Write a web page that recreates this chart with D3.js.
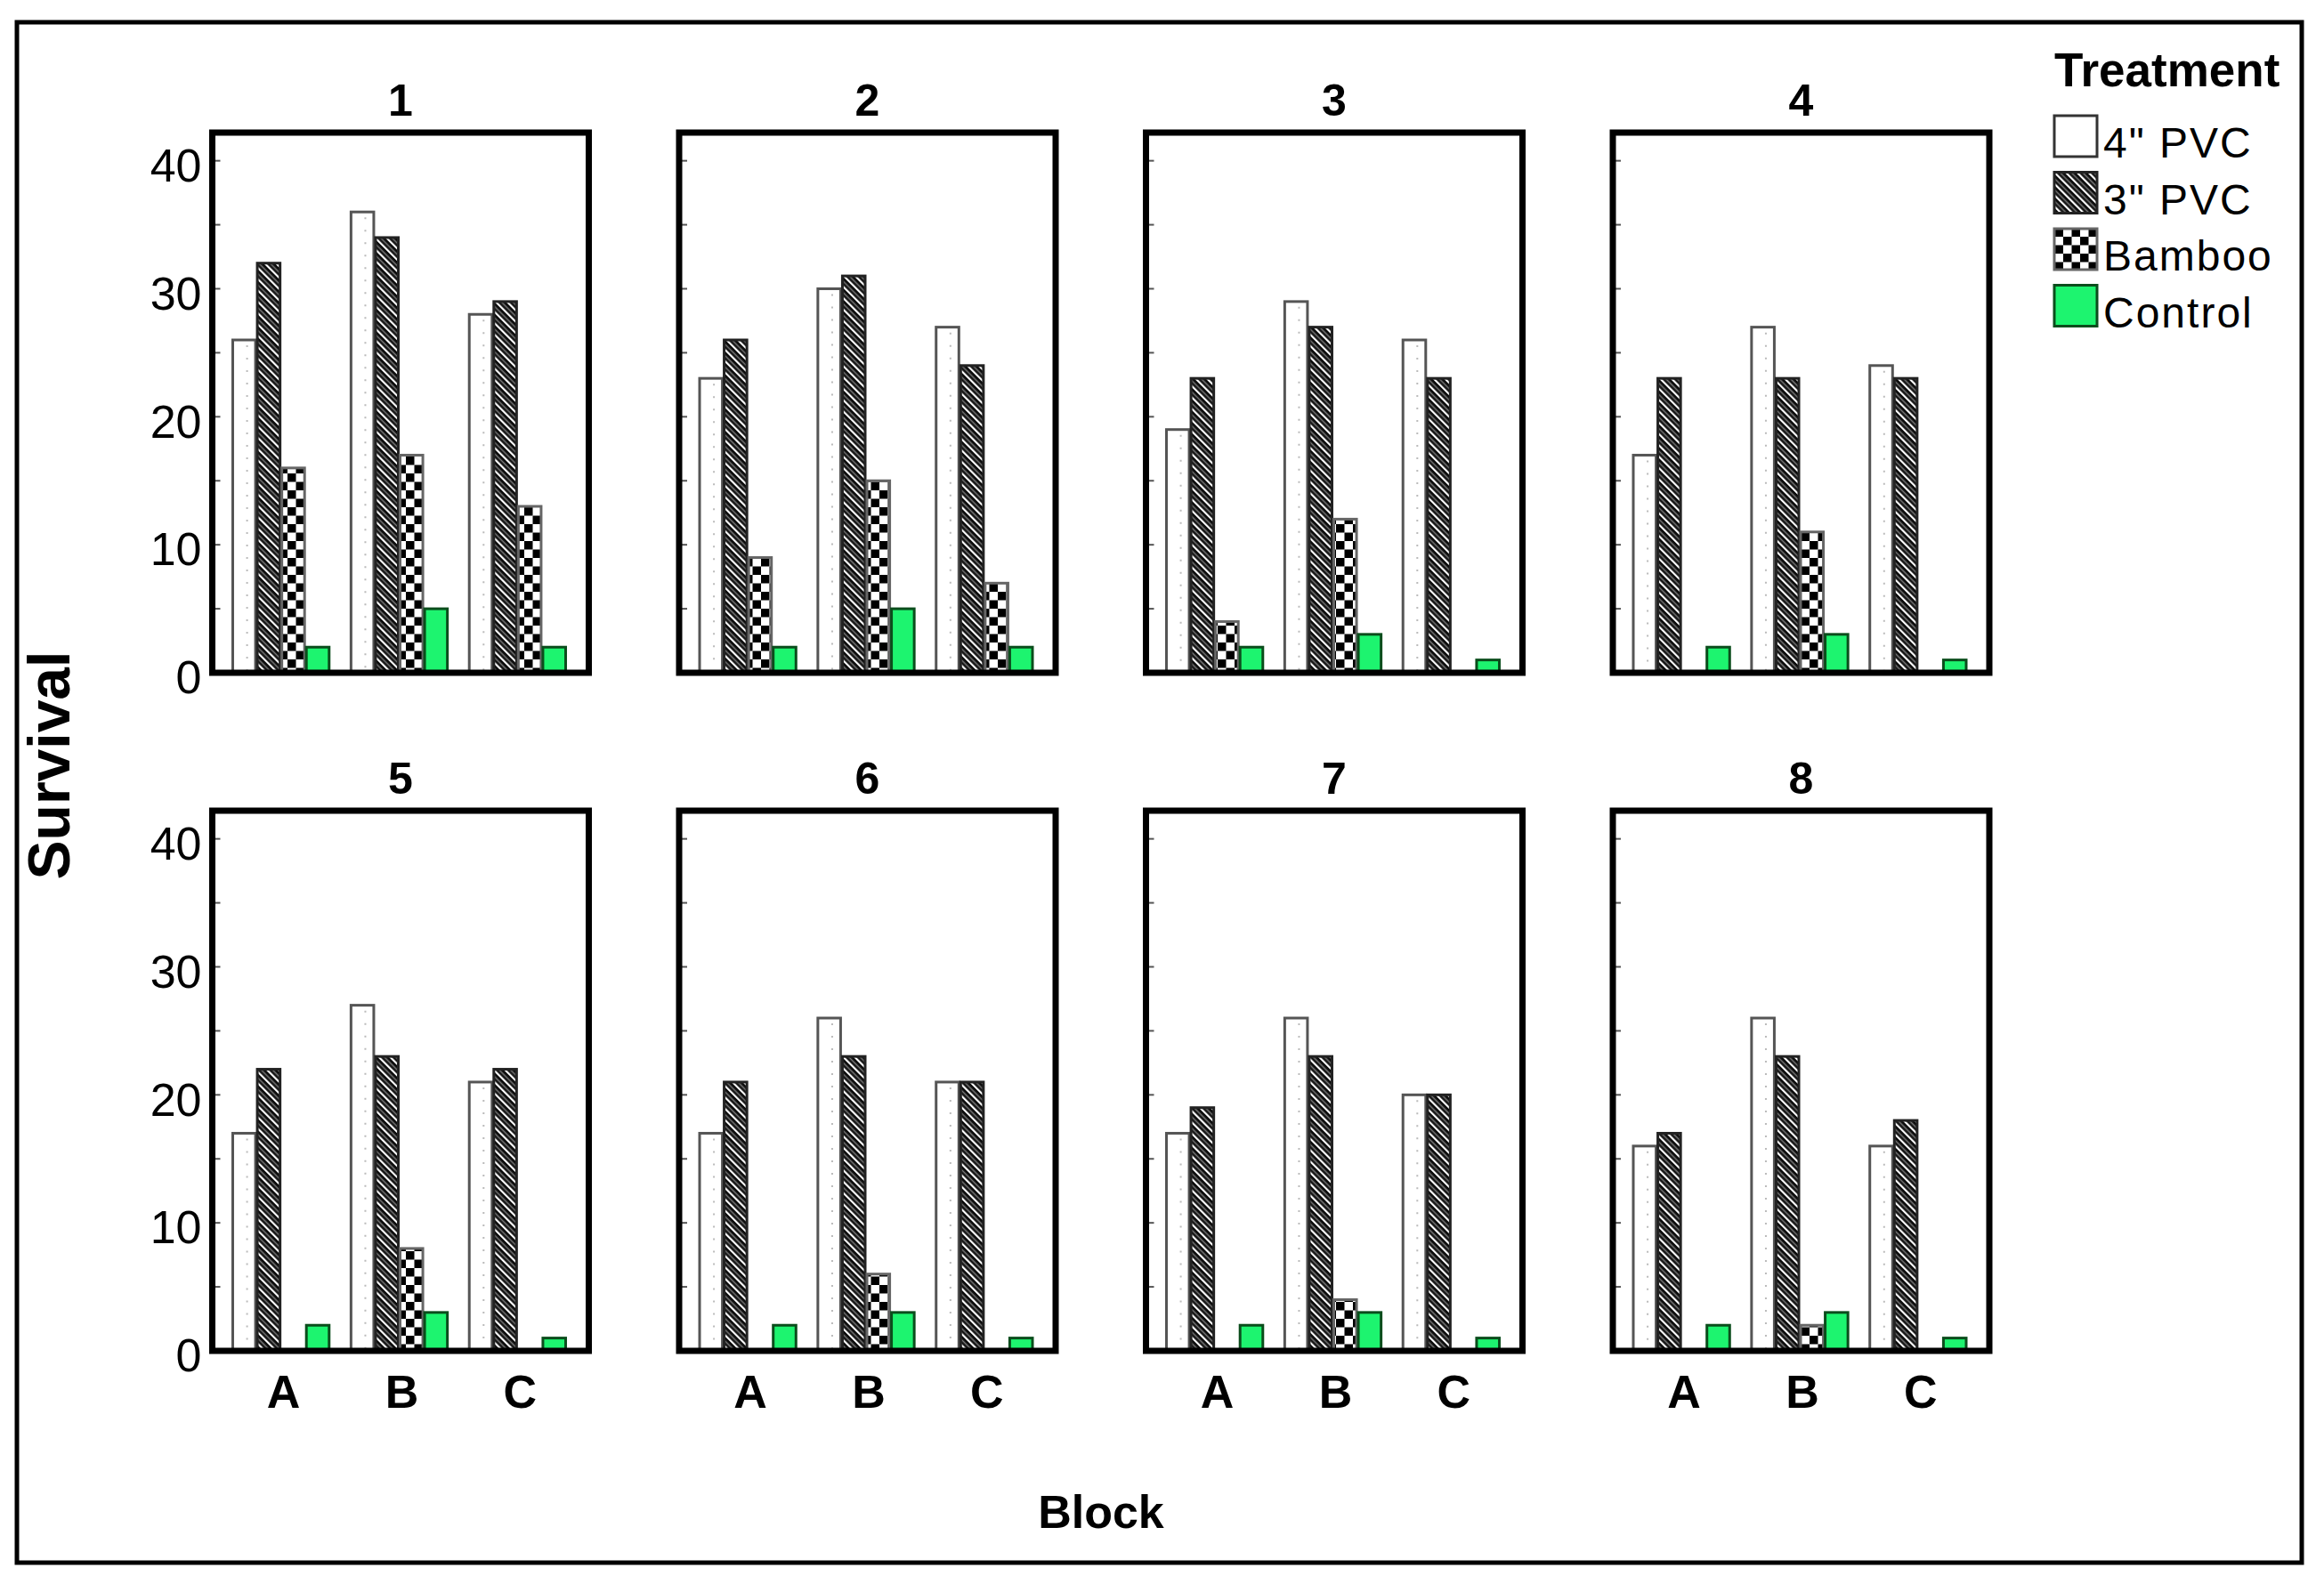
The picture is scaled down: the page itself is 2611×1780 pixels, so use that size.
<!DOCTYPE html>
<html>
<head>
<meta charset="utf-8">
<script src="https://cdn.jsdelivr.net/npm/d3@7"></script>
<style>
  html, body { margin: 0; padding: 0; background: #fff; }
  svg { display: block; }
</style>
</head>
<body>
<svg id="chart" width="2611" height="1780"></svg>
<script>
// ---------------- data ----------------
const panels = ["1", "2", "3", "4", "5", "6", "7", "8"];
const blocks = ["A", "B", "C"];
const treatments = ["4\" PVC", "3\" PVC", "Bamboo", "Control"];
// values per panel, in block order A, B, C
const pvc4    = [[26, 36, 28], [23, 30, 27], [19, 29, 26], [17, 27, 24], [17, 27, 21], [17, 26, 21], [17, 26, 20], [16, 26, 16]];
const pvc3    = [[32, 34, 29], [26, 31, 24], [23, 27, 23], [23, 23, 23], [22, 23, 22], [21, 23, 21], [19, 23, 20], [17, 23, 18]];
const bamboo  = [[16, 17, 13], [9, 15, 7], [4, 12, 0], [0, 11, 0], [0, 8, 0], [0, 6, 0], [0, 4, 0], [0, 2, 0]];
const control = [[2, 5, 2], [2, 5, 2], [2, 3, 1], [2, 3, 1], [2, 3, 1], [2, 3, 1], [2, 3, 1], [2, 3, 1]];
const yTickLabels = [0, 10, 20, 30, 40];
const yTickMarks = [0, 5, 10, 15, 20, 25, 30, 35, 40];
const yLabel = "Survival";
const xLabel = "Block";
const legendTitle = "Treatment";

const series = [pvc4, pvc3, bamboo, control];

// ---------------- layout ----------------
const svg = d3.select("#chart");
const narrow = "'Liberation Sans Narrow', 'Arial Narrow', 'Liberation Sans', Arial, sans-serif";
const wide = "'Liberation Sans', Arial, Helvetica, sans-serif";

const panelW = 423, panelH = 607;
const colX = d3.scaleLinear().domain([0, 1]).range([238.5, 238.5 + 524.5]);
const rowY = d3.scaleLinear().domain([0, 1]).range([149, 149 + 762]);

// patterns
const defs = svg.append("defs");
// 3" PVC diagonal hatch
const hatch = defs.append("pattern").attr("id", "hatch").attr("patternUnits", "userSpaceOnUse")
  .attr("width", 9).attr("height", 9).attr("patternTransform", "rotate(-45)");
hatch.append("rect").attr("width", 9).attr("height", 9).attr("fill", "#0a0a0a");
hatch.append("rect").attr("x", 0).attr("width", 2.2).attr("height", 9).attr("fill", "#fff");
hatch.append("rect").attr("x", 4.6).attr("width", 1.6).attr("height", 9).attr("fill", "#777");
// Bamboo checkerboard
const check = defs.append("pattern").attr("id", "check").attr("patternUnits", "userSpaceOnUse")
  .attr("width", 19).attr("height", 19);
check.append("rect").attr("width", 19).attr("height", 19).attr("fill", "#fff");
check.append("rect").attr("width", 9.5).attr("height", 9.5).attr("fill", "#000");
check.append("rect").attr("x", 9.5).attr("y", 9.5).attr("width", 9.5).attr("height", 9.5).attr("fill", "#000");

const fills = ["#ffffff", "url(#hatch)", "url(#check)", "#1df46f"];
const strokes = ["#555", "#222", "#666", "#0b4d1c"];

// outer border
svg.append("rect").attr("x", 19).attr("y", 25).attr("width", 2567).attr("height", 1731)
  .attr("fill", "none").attr("stroke", "#000").attr("stroke-width", 5);

panels.forEach((p, pi) => {
  const col = pi % 4, row = Math.floor(pi / 4);
  const x0 = colX(col), y0 = rowY(row);
  const g = svg.append("g");

  const y = d3.scaleLinear().domain([0, 42.2]).range([y0 + panelH, y0]);
  const xg = d3.scaleBand().domain(blocks).range([x0 + 22, x0 + 398]).paddingInner(0.17).paddingOuter(0);
  const xt = d3.scaleBand().domain(treatments).range([0, xg.bandwidth()]).padding(0);

  // bars
  treatments.forEach((t, ti) => {
    const vals = blocks.map((b, bi) => ({ b, v: series[ti][pi][bi] })).filter(d => d.v > 0);
    g.selectAll(null).data(vals).enter().append("rect")
      .attr("x", d => xg(d.b) + xt(t) + 1)
      .attr("y", d => y(d.v))
      .attr("width", xt.bandwidth() - 2)
      .attr("height", d => y(0) - y(d.v))
      .attr("fill", fills[ti])
      .attr("stroke", strokes[ti])
      .attr("stroke-width", 3);
    if (ti === 0) {
      g.selectAll(null).data(vals).enter().append("line")
        .attr("x1", d => xg(d.b) + xt(t) + xt.bandwidth() * 0.62)
        .attr("x2", d => xg(d.b) + xt(t) + xt.bandwidth() * 0.62)
        .attr("y1", d => y(d.v) + 6).attr("y2", y(0))
        .attr("stroke", "#bbb").attr("stroke-width", 2).attr("stroke-dasharray", "2,12");
    }
  });

  // tick marks
  g.selectAll(null).data(yTickMarks).enter().append("line")
    .attr("x1", x0).attr("x2", x0 + 9)
    .attr("y1", d => y(d)).attr("y2", d => y(d))
    .attr("stroke", "#555").attr("stroke-width", 2);

  // frame
  g.append("rect").attr("x", x0).attr("y", y0).attr("width", panelW).attr("height", panelH)
    .attr("fill", "none").attr("stroke", "#000").attr("stroke-width", 7);

  // title
  g.append("text").attr("x", x0 + panelW / 2).attr("y", y0 - 19)
    .attr("text-anchor", "middle").attr("font-family", narrow).attr("font-weight", "bold")
    .attr("font-size", 50).text(p);

  // y tick labels on first column
  if (col === 0) {
    g.selectAll(null).data(yTickLabels).enter().append("text")
      .attr("x", x0 - 12).attr("y", d => y(d) + 5).attr("dy", "0.35em")
      .attr("text-anchor", "end").attr("font-family", narrow).attr("font-size", 52)
      .text(d => d);
  }
  // x tick labels on bottom row
  if (row === 1) {
    g.selectAll(null).data(blocks).enter().append("text")
      .attr("x", d => xg(d) + xg.bandwidth() / 2 + 3).attr("y", y0 + panelH + 64)
      .attr("text-anchor", "middle").attr("font-family", narrow).attr("font-weight", "bold")
      .attr("font-size", 52).text(d => d);
  }
});

// axis titles
svg.append("text").attr("transform", "translate(78,860) rotate(-90)")
  .attr("text-anchor", "middle").attr("font-family", wide).attr("font-weight", "bold")
  .attr("font-size", 66).text(yLabel);
svg.append("text").attr("x", 1237).attr("y", 1717)
  .attr("text-anchor", "middle").attr("font-family", wide).attr("font-weight", "bold")
  .attr("font-size", 52).text(xLabel);

// legend
const lg = svg.append("g");
lg.append("text").attr("x", 2308).attr("y", 97).attr("font-family", wide).attr("font-weight", "bold")
  .attr("font-size", 53).text(legendTitle);
const ly = d3.scaleBand().domain(treatments).range([128, 128 + 4 * 63.5]);
treatments.forEach((t, ti) => {
  lg.append("rect").attr("x", 2308).attr("y", ly(t) + 2).attr("width", 48).attr("height", 46)
    .attr("fill", fills[ti]).attr("stroke", ti === 0 ? "#333" : strokes[ti]).attr("stroke-width", 3);
  lg.append("text").attr("x", 2363).attr("y", ly(t) + 49).attr("font-family", wide)
    .attr("font-size", 48).attr("letter-spacing", 2).text(t);
});
</script>
</body>
</html>
